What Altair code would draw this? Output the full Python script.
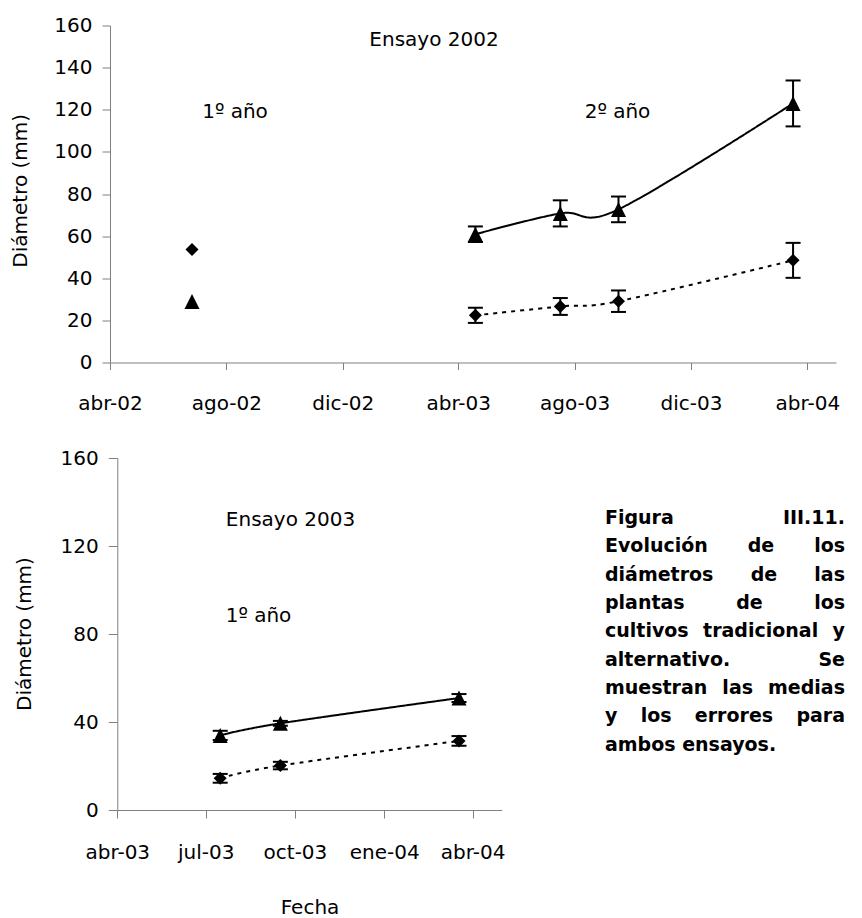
import altair as alt
import pandas as pd

FONT = "DejaVu Sans"
GRAY = "#808080"

# ---------------- data ----------------
series = ["Tradicional", "Alternativ o"]

# Ensayo 2002
fechas_2002 = ["2003-04-19", "2003-07-17", "2003-09-16", "2004-03-17"]
trad_2002_media = [22.4, 26.6, 29.1, 48.5]
trad_2002_err = [3.6, 4.0, 5.1, 8.3]
alt_2002_media = [60.9, 70.8, 72.7, 123.0]
alt_2002_err = [3.7, 6.2, 6.1, 10.9]

# Ensayo 2003
fechas_2003 = ["2003-07-16", "2003-09-16", "2004-03-18"]
trad_2003_media = [14.4, 20.2, 31.4]
trad_2003_err = [2.0, 1.7, 2.2]
alt_2003_media = [33.9, 39.4, 50.9]
alt_2003_err = [2.1, 1.1, 1.8]

meses = ["ene", "feb", "mar", "abr", "may", "jun",
         "jul", "ago", "sep", "oct", "nov", "dic"]
ticks_2002 = [(2002, 4), (2002, 8), (2002, 12), (2003, 4), (2003, 8), (2003, 12), (2004, 4)]
ticks_2003 = [(2003, 4), (2003, 7), (2003, 10), (2004, 1), (2004, 4)]
y_ticks_2002 = [0, 20, 40, 60, 80, 100, 120, 140, 160]
y_ticks_2003 = [0, 40, 80, 120, 160]

caption_lines = [
    ["Figura", "III.11."],
    ["Evolución", "de", "los"],
    ["diámetros", "de", "las"],
    ["plantas", "de", "los"],
    ["cultivos", "tradicional", "y"],
    ["alternativo.", "Se"],
    ["muestran", "las", "medias"],
    ["y", "los", "errores", "para"],
    ["ambos ensayos."],
]


def long_df(fechas, tm, te, am, ae):
    rows = []
    for f, m, e in zip(fechas, tm, te):
        rows.append({"fecha": f + "T00:00:00", "serie": series[0], "media": m, "err": e})
    for f, m, e in zip(fechas, am, ae):
        rows.append({"fecha": f + "T00:00:00", "serie": series[1], "media": m, "err": e})
    return pd.DataFrame(rows)


df02 = long_df(fechas_2002, trad_2002_media, trad_2002_err, alt_2002_media, alt_2002_err)
df03 = long_df(fechas_2003, trad_2003_media, trad_2003_err, alt_2003_media, alt_2003_err)
one_row = pd.DataFrame({"k": [0]})

label_expr = ("[" + ",".join("'%s'" % m for m in meses) + "][month(datum.value)]"
              " + '-' + timeFormat(datum.value, '%y')")

TRI = "M0,-1L-1,1L1,1Z"

# two legends drawn on top of each other: line key (no labels) + marker key (with labels)
LEG_COMMON = dict(title=None, orient="none", legendY=211, direction="vertical",
                  labelFont=FONT, labelFontSize=20, labelColor="black",
                  clipHeight=26, rowPadding=26, padding=0)


def dt(y, m):
    return alt.DateTime(year=y, month=m, date=1)


def panel(df, x_dom, x_ticks, y_ticks, tick_x, tick_y, sizes, width, x_shift=0.0,
          xtitle=None, xtitle_pad=26, legend=False):
    xaxis = alt.Axis(values=[dt(*t) for t in x_ticks], labelExpr=label_expr, tickSize=tick_x,
                     labelPadding=24, title=xtitle, titlePadding=xtitle_pad)
    X = alt.X("fecha:T", scale=alt.Scale(domain=[dt(*x_dom[0]), dt(*x_dom[1])],
                                         range=[x_shift, width]), axis=xaxis)
    yscale = alt.Scale(domain=[0, 160], nice=False)

    def Y(f):
        kw = dict(values=y_ticks, tickSize=tick_y, labelPadding=10, title=None)
        if x_shift:
            kw["offset"] = -x_shift
        return alt.Y(f, scale=yscale, axis=alt.Axis(**kw))

    base = alt.Chart(df).transform_calculate(
        lo="datum.media - datum.err", hi="datum.media + datum.err")

    if legend:
        dash_leg = alt.Legend(symbolType="stroke", symbolSize=78 * 78, symbolStrokeWidth=2,
                              symbolStrokeColor="black", labelOpacity=0, labelOffset=5,
                              legendX=72, **LEG_COMMON)
        shape_leg = alt.Legend(symbolSize=196, symbolFillColor="black", symbolStrokeWidth=0,
                               labelOffset=37, legendX=105, **LEG_COMMON)
    else:
        dash_leg = None
        shape_leg = None

    # the line key uses its own field name so that it stays a legend of its own
    lines = base.transform_calculate(serie_l="datum.serie").mark_line(
        interpolate="cardinal", strokeWidth=2, color="black").encode(
        x=X, y=Y("media:Q"),
        strokeDash=alt.StrokeDash("serie_l:N", scale=alt.Scale(domain=series, range=[[4, 5], [1, 0]]),
                                  legend=dash_leg))
    rules = base.mark_rule(strokeWidth=2, color="black").encode(x=X, y=Y("lo:Q"), y2="hi:Q")
    cap_lo = base.mark_tick(orient="horizontal", size=15, thickness=2, color="black", opacity=1).encode(
        x=X, y=Y("lo:Q"))
    cap_hi = base.mark_tick(orient="horizontal", size=15, thickness=2, color="black", opacity=1).encode(
        x=X, y=Y("hi:Q"))
    pts = base.mark_point(filled=True, opacity=1, color="black").encode(
        x=X, y=Y("media:Q"),
        shape=alt.Shape("serie:N", scale=alt.Scale(domain=series, range=["diamond", TRI]),
                        legend=shape_leg),
        size=alt.Size("serie:N", scale=alt.Scale(domain=series, range=sizes), legend=None))
    return [lines, rules, cap_lo, cap_hi, pts]


def note(text, x, y, align="center", bold=False, size=20, angle=None, baseline="alphabetic"):
    kw = dict(text=text, align=align, baseline=baseline, font=FONT, fontSize=size,
              fontWeight="bold" if bold else "normal", color="black")
    if angle is not None:
        kw["angle"] = angle
    return alt.Chart(one_row).mark_text(**kw).encode(x=alt.value(x), y=alt.value(y))


def left_edge(x):
    # invisible (white) rule fixing where the panel's left bound lies
    return alt.Chart(one_row).mark_rule(color="white", strokeWidth=1).encode(
        x=alt.value(x), y=alt.value(0), y2=alt.value(1))


# ---------------- top panel (plot origin at x=110) ----------------
top_layers = panel(df02, ((2002, 4), (2004, 5)), ticks_2002, y_ticks_2002, 7, 8,
                   [169, 225], 726, legend=True)
top_layers += [note("Ensayo 2002", 324, 20.3), note("1º año", 125, 92.6), note("2º año", 507.5, 92.6),
               note("Diámetro (mm)", -89, 165.3, angle=270, baseline="middle"),
               left_edge(-109.5)]
top = alt.layer(*top_layers).properties(width=726, height=337)

# ---------------- bottom panel (group aligned at x=110, its axis drawn at x=117.3) ----------------
OX, OY = 110.0, 458.0
SHIFT = 7.3
bot_layers = panel(df03, ((2003, 4), (2004, 5)), ticks_2003, y_ticks_2003, 8, 9,
                   [144, 100], 384.4 + SHIFT, x_shift=SHIFT, xtitle="Fecha", xtitle_pad=35)
bot_layers += [note("Ensayo 2003", 290.5 - OX, 68), note("1º año", 258.5 - OX, 163.7),
               note("Diámetro (mm)", 25 - OX, 176, angle=270, baseline="middle")]

# caption, justified between x=605 and x=845 (approximate DejaVu Sans Bold advances)
W = {" ": .348, "a": .675, "b": .716, "c": .593, "d": .716, "e": .678, "f": .435, "g": .716,
     "h": .712, "i": .343, "l": .343, "m": 1.042, "n": .712, "o": .687, "p": .716, "r": .493,
     "s": .595, "t": .478, "u": .712, "v": .652, "y": .652, "á": .675, "ó": .687, "F": .683,
     "E": .683, "I": .372, "S": .72, ".": .38, "1": .696}
CAP_SIZE = 19
L_X, R_X = 605, 845


def wwidth(w):
    return sum(W.get(ch, .65) for ch in w) * CAP_SIZE


for i, words in enumerate(caption_lines):
    yb = 524 + 28.33 * i - OY
    if len(words) == 1:
        bot_layers.append(note(words[0], L_X - OX, yb, align="left", bold=True, size=CAP_SIZE))
        continue
    widths = [wwidth(w) for w in words]
    gap = (R_X - L_X - sum(widths)) / (len(words) - 1)
    x = L_X
    for j, (w, wd) in enumerate(zip(words, widths)):
        if j == len(words) - 1:
            bot_layers.append(note(w, R_X - OX, yb, align="right", bold=True, size=CAP_SIZE))
        else:
            bot_layers.append(note(w, x - OX, yb, align="left", bold=True, size=CAP_SIZE))
        x += wd + gap

bottom = alt.layer(*bot_layers).properties(width=384.4 + SHIFT, height=352)

chart = alt.vconcat(top, bottom, spacing=34.5).properties(
    padding={"left": 0, "top": 15.5, "right": 0, "bottom": 0},
    background="white",
).configure_view(stroke=None).configure_axis(
    labelFont=FONT, labelFontSize=20, labelColor="black",
    titleFont=FONT, titleFontSize=20, titleFontWeight="normal", titleColor="black",
    domainColor=GRAY, tickColor=GRAY, domainWidth=1, tickWidth=1, grid=False,
    labelFlush=False, labelOverlap=False, labelBound=False,
)

chart.save("out.html", embed_options={"renderer": "svg", "actions": False})
